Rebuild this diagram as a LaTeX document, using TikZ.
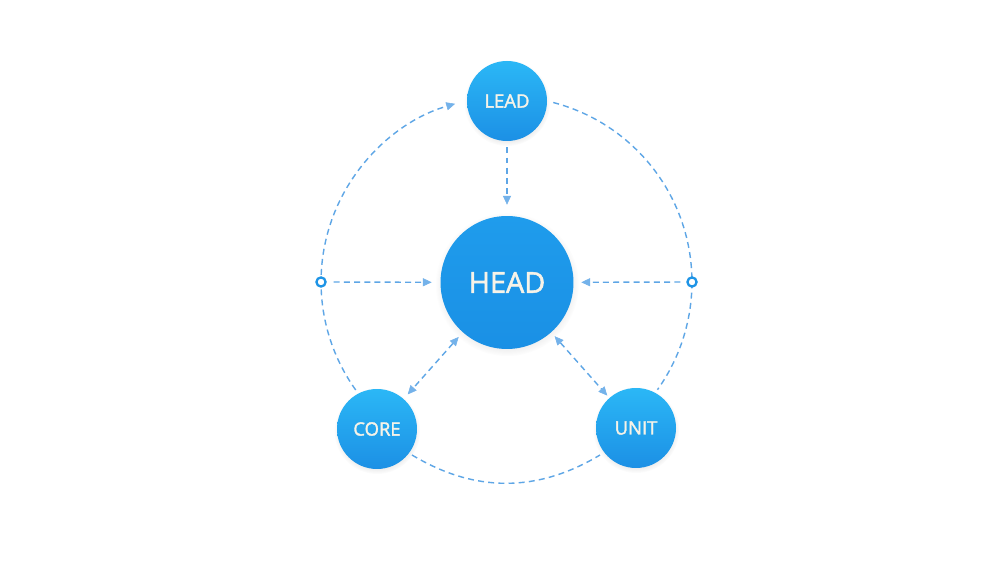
\documentclass[tikz,border=0pt]{standalone}
\usepackage{fontspec}
\setmainfont[FakeBold=1.8]{Open Sans}
\usetikzlibrary{arrows.meta,calc,shadows}
\definecolor{lineblue}{HTML}{5EA6E6}
\definecolor{tipblue}{HTML}{74B2EA}
\definecolor{topblue}{HTML}{2BB7F6}
\definecolor{botblue}{HTML}{1C90E5}
\definecolor{headtop}{HTML}{1F9CEC}
\definecolor{headbot}{HTML}{1A90E5}
\definecolor{dotblue}{HTML}{1E94E6}
\definecolor{txt}{HTML}{F6F3E8}
\begin{document}
\begin{tikzpicture}[x=0.02cm,y=0.02cm,
  ball/.style={circle, inner sep=0pt, top color=topblue, bottom color=botblue, text=txt,
    font=\fontsize{10.5}{12}\selectfont, minimum size=1.6cm,
    circular drop shadow={shadow xshift=0pt, shadow yshift=-1pt, shadow scale=1.08, opacity=0.16}},
  bigball/.style={ball, minimum size=2.66cm, top color=headtop, bottom color=headbot,
    font=\fontsize{16.4}{18}\selectfont},
  link/.style={draw=lineblue, line width=0.8pt, dash pattern=on 3.4pt off 2.4pt},
  tipend/.style={-{Triangle[length=5pt,width=4.6pt,color=tipblue,fill=tipblue,line width=0.3pt]}},
  tipboth/.style={{Triangle[length=5pt,width=4.6pt,color=tipblue,fill=tipblue,line width=0.3pt]}-{Triangle[length=5pt,width=4.6pt,color=tipblue,fill=tipblue,line width=0.3pt]}},
  hub/.style={circle, draw=dotblue, fill=white, line width=1.3pt, minimum size=5.2pt, inner sep=0pt}
]
\fill[white] (0,0) rectangle (1000,567);
\useasboundingbox (0,0) rectangle (1000,567);

\coordinate (O) at (506.5,285);
\coordinate (arcL0) at ($(O)+(215.6:3.71cm)$);
\coordinate (arcR0) at ($(O)+(75.4:3.71cm)$);
\coordinate (botL) at (412,112);
\coordinate (botR) at (600,112);

% outer dashed arcs
\draw[link,tipend] (arcL0) arc[start angle=215.6, end angle=106.1, radius=3.71cm];
\draw[link] (arcR0) arc[start angle=75.4, end angle=-35.5, radius=3.71cm];
\draw[link] (botL) to[bend right=31] (botR);

% nodes
\node[ball] (lead) at (507,466) {LEAD};
\node[bigball] (head) at (507,284.5) {HEAD};
\node[ball] (core) at (377,138) {CORE};
\node[ball] (unit) at (636,139) {UNIT};
\node[hub] (ldot) at (321,285) {};
\node[hub] (rdot) at (692,285) {};

% connectors
\draw[link,tipend,shorten <=0.12cm,shorten >=0.22cm] (lead) -- (head);
\draw[link,tipend,shorten <=0.14cm,shorten >=0.17cm] (ldot) -- (head);
\draw[link,tipend,shorten <=0.12cm,shorten >=0.15cm] (rdot) -- (head);
\draw[link,tipboth,shorten <=0.12cm,shorten >=0.12cm] (head) -- (core);
\draw[link,tipboth,shorten <=0.1cm,shorten >=0.06cm] (head) -- (unit);
\end{tikzpicture}
\end{document}
